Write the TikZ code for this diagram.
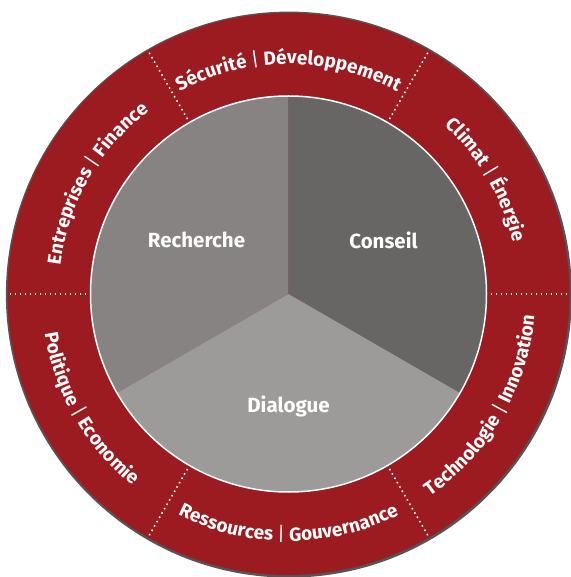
\documentclass[tikz,border=0pt]{standalone}
\usepackage{fontspec}
\setmainfont{Fira Sans}
\usetikzlibrary{decorations.text}
\definecolor{ringred}{RGB}{155,27,32}
\definecolor{bordergray}{RGB}{85,85,85}
\definecolor{rechgray}{RGB}{135,131,130}
\definecolor{consgray}{RGB}{104,102,100}
\definecolor{dialgray}{RGB}{157,155,153}
\newcommand\ringfont{\fontsize{19}{21}\selectfont\bfseries}
\tikzset{
  sepdot/.style={white, line width=1.6pt, dash pattern=on 1.6pt off 3.4pt},
  innerlabel/.style={text=white, font=\fontsize{20.5}{23}\selectfont\bfseries, inner sep=0pt},
  ringlabel/.style={decorate, decoration={text along path, text align=center, text color=white, text={|\ringfont|#1}}}
}
\begin{document}
\begin{tikzpicture}[x=1pt,y=1pt]
\useasboundingbox (-288.5,-283) rectangle (281.5,294);
% outer ring
\fill[bordergray] (0.4,-0.6) circle[radius=283];
\fill[ringred] (0,0) circle[radius=281];
% sectors
\fill[rechgray] (0,0) -- (90:198) arc[start angle=90, end angle=210, radius=198] -- cycle;
\fill[consgray] (0,0) -- (-30:198) arc[start angle=-30, end angle=90, radius=198] -- cycle;
\fill[dialgray] (0,0) -- (210:198) arc[start angle=210, end angle=330, radius=198] -- cycle;
\draw[white, line width=1.5pt] (0,0) circle[radius=198];
% separators
\foreach \a in {0,60,...,300} \draw[sepdot] (\a:202) -- (\a:280);
% inner labels
\node[innerlabel] (rech) at (-92,54) {Recherche};
\node[innerlabel] (cons) at (95,54) {Conseil};
\node[innerlabel] (dial) at (0,-112) {Dialogue};
% ring labels, tops outward
\path[ringlabel={Sécurité {\mdseries\textbar} Développement}] (120:230) arc[start angle=120, end angle=60, radius=230];
\path[ringlabel={Climat {\mdseries\textbar} Énergie}] (60:230) arc[start angle=60, end angle=0, radius=230];
\path[ringlabel={Entreprises {\mdseries\textbar} Finance}] (180:230) arc[start angle=180, end angle=120, radius=230];
% ring labels, tops inward
\path[ringlabel={Politique {\mdseries\textbar} Economie}] (180:247) arc[start angle=180, end angle=240, radius=247];
\path[ringlabel={Ressources {\mdseries\textbar} Gouvernance}] (240:247) arc[start angle=240, end angle=300, radius=247];
\path[ringlabel={Technologie {\mdseries\textbar} Innovation}] (300:247) arc[start angle=300, end angle=360, radius=247];
\end{tikzpicture}
\end{document}
